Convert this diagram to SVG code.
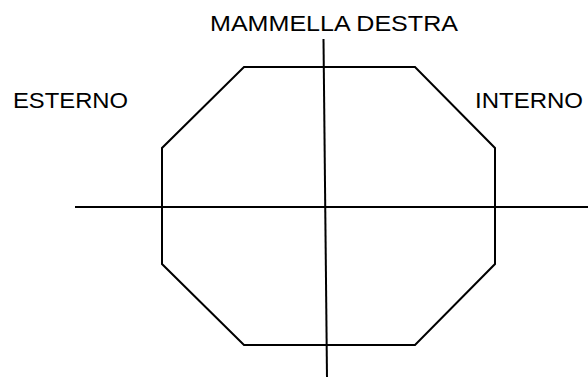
<svg xmlns="http://www.w3.org/2000/svg" width="588" height="377" viewBox="0 0 588 377">
<style>
.ln{fill:none;stroke:#000;stroke-width:2;stroke-linejoin:miter}
.lbl{font-family:"Liberation Sans",Arial,sans-serif;font-size:22.5px;fill:#000}
</style>
<rect width="588" height="377" fill="#fff"/>
<g id="octagon">
<polygon class="ln" points="244,67 415,67 495,148 495,264 415,345 244,345 162,264 162,148"/>
</g>
<g id="connectors">
<line class="ln" x1="75" y1="207" x2="588" y2="207"/>
<line class="ln" x1="323.5" y1="39" x2="327" y2="377"/>
</g>
<g id="label-top">
<text class="lbl" x="210" y="31" textLength="248" lengthAdjust="spacingAndGlyphs">MAMMELLA DESTRA</text>
</g>
<g id="label-left">
<text class="lbl" x="13" y="108" textLength="115" lengthAdjust="spacingAndGlyphs">ESTERNO</text>
</g>
<g id="label-right">
<text class="lbl" x="475" y="108" textLength="108" lengthAdjust="spacingAndGlyphs">INTERNO</text>
</g>
</svg>
